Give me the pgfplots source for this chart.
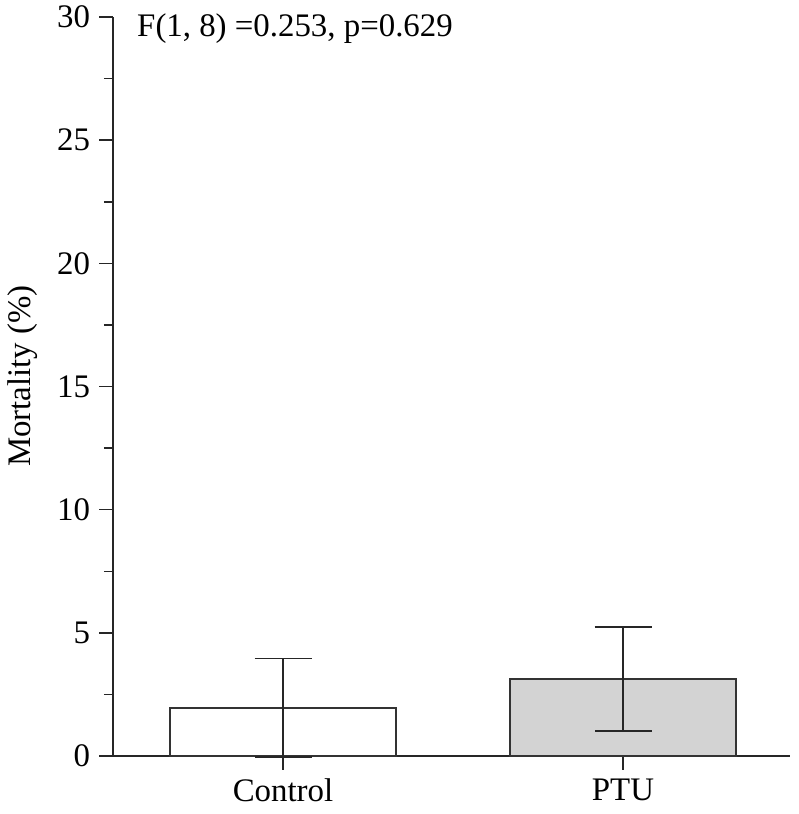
\documentclass[border=0pt]{standalone}
\usepackage{fontspec}
\setmainfont{Liberation Serif}
\usepackage{pgfplots}
\pgfplotsset{compat=1.18}
\definecolor{barline}{HTML}{333333}
\definecolor{ptufill}{HTML}{D3D3D3}
\begin{document}
\begin{tikzpicture}[font=\fontsize{33}{40}\selectfont]
\path[use as bounding box] (-113bp,-58bp) rectangle (686bp,756bp);
\begin{axis}[
  at={(0,0)}, anchor=south west,
  x=340bp, y=24.633bp,
  xmin=-0.5, xmax=1.49, ymin=0, ymax=30,
  axis x line=bottom, axis y line=left,
  axis line style={-, line width=1.5bp, black!85},
  every tick/.style={line width=1.5bp, black!85},
  tick align=outside,
  major tick length=13.5bp, minor tick length=9bp,
  xtick={0,1}, xticklabels={Control, PTU},
  ytick={0,5,...,30}, minor y tick num=1,
  /pgf/number format/assume math mode=true,
  tick label style={font=\fontsize{33}{40}\selectfont},
  yticklabel style={xshift=-6bp},
  xticklabel style={yshift=-6bp},
  ylabel={Mortality (\%)},
  ylabel style={at={(axis description cs:-0.133,0.514)}, anchor=center, font=\fontsize{33}{40}\selectfont},
  ybar, bar width=226bp, bar shift=0pt,
  clip=false,
]
\addplot[draw=barline, fill=white, line width=1.5bp,
  error bars/.cd, y dir=both, y explicit,
  error bar style={line width=1.5bp, black!85},
  error mark options={rotate=90, mark size=28.5bp, line width=1.5bp, black!85}]
  coordinates {(0,1.95) +- (0,2.0)};
\addplot[draw=barline, fill=ptufill, line width=1.5bp,
  error bars/.cd, y dir=both, y explicit,
  error bar style={line width=1.5bp, black!85},
  error mark options={rotate=90, mark size=28.5bp, line width=1.5bp, black!85}]
  coordinates {(1,3.13) +- (0,2.11)};
\node[anchor=west, inner sep=0pt] at (axis description cs:0.0355,0.984) {F(1, 8) =0.253, p=0.629};
\end{axis}
\end{tikzpicture}
\end{document}
